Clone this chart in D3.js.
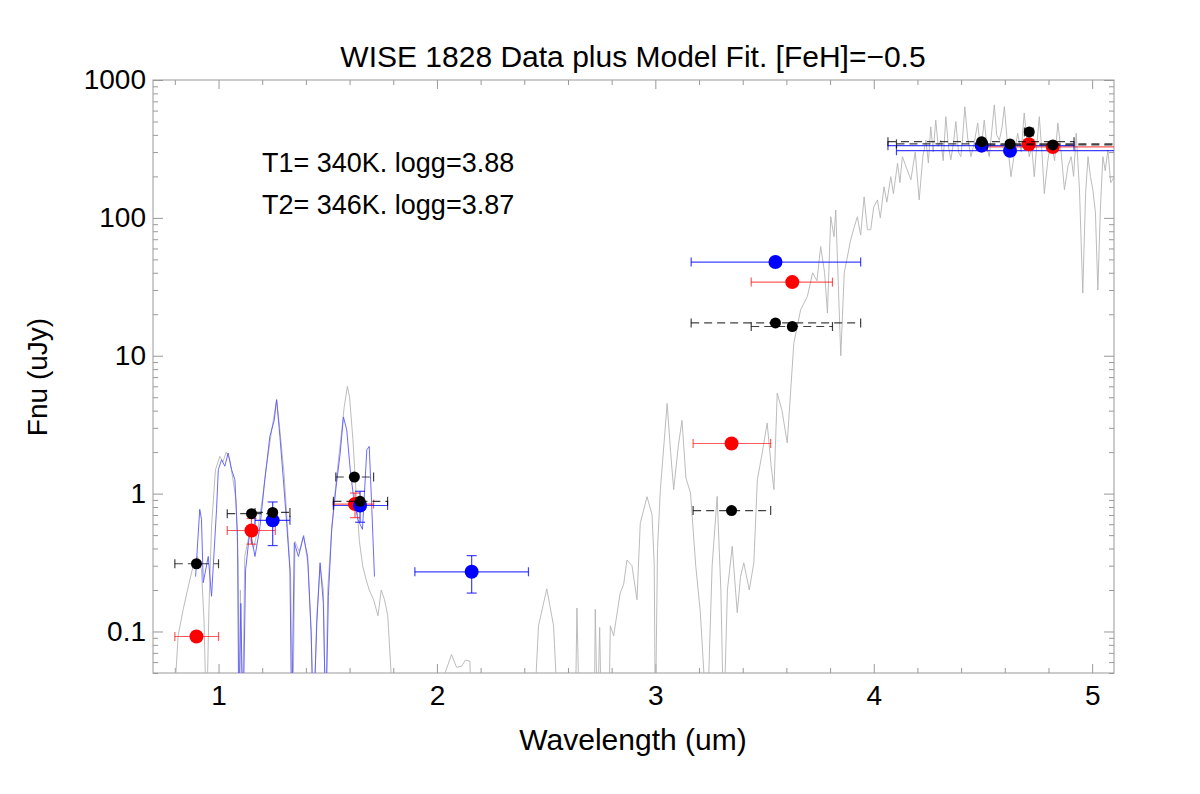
<!DOCTYPE html>
<html>
<head>
<meta charset="utf-8">
<style>
  body { margin: 0; background: #fff; }
  svg { display: block; }
  text { font-family: "Liberation Sans", Arial, sans-serif; fill: #000; }
</style>
</head>
<body>
<svg width="1200" height="794"></svg>

<script src="https://d3js.org/d3.v7.min.js"></script>
<script>
	// tick values
	const xTicks = [1, 2, 3, 4, 5]
	const yTicks = [0.1, 1, 10, 100, 1000]

	// observed photometry: [wave, flux, waveLo, waveHi, fluxLo, fluxHi]
	const redPts = [
		[0.899, 0.092, 0.80, 1.00, null, null],
		[1.151, 0.54, 1.04, 1.26, 0.43, 0.66],
		[1.625, 0.84, 1.526, 1.71, 0.67, 1.01],
		[3.349, 2.31, 3.173, 3.528, null, null],
		[3.627, 34.2, 3.439, 3.811, null, null],
		[4.71, 342, 4.69, 4.73, null, null],
		[4.82, 327, 4.52, 5.12, null, null]
	]
	const bluePts = [
		[1.248, 0.64, 1.167, 1.327, 0.42, 0.87],
		[1.648, 0.82, 1.526, 1.774, 0.62, 1.04],
		[2.159, 0.271, 1.899, 2.419, 0.19, 0.355],
		[3.55, 47.8, 3.164, 3.94, null, null],
		[4.494, 334, 4.065, 4.917, null, null],
		[4.624, 307, 4.104, 5.14, null, null]
	]
	// model photometry (black): [wave, flux, waveLo, waveHi]
	const modelPts = [
		[0.899, 0.31, 0.80, 1.00],
		[1.151, 0.716, 1.04, 1.26],
		[1.248, 0.73, 1.167, 1.327],
		[1.622, 1.32, 1.537, 1.71],
		[1.648, 0.88, 1.526, 1.774],
		[3.349, 0.753, 3.173, 3.528],
		[3.55, 17.3, 3.164, 3.94],
		[3.627, 16.3, 3.439, 3.811],
		[4.494, 357, 4.065, 4.917],
		[4.624, 344, 4.104, 5.14],
		[4.712, 420, 4.69, 4.73],
		[4.82, 338, 4.52, 5.12]
	]

	// model spectrum, grey: [wave, flux]
	const specGrey = [
		[0.79,0.02],[0.815,0.093],[0.838,0.144],[0.861,0.21],[0.884,0.30],[0.904,0.35],[0.922,0.28],
		[0.934,0.116],[0.945,0.02],[0.956,0.144],[0.968,0.58],[0.986,1.49],[1.006,1.86],[1.02,1.7],
		[1.035,2.0],[1.05,1.8],[1.065,1.3],[1.08,0.9],[1.09,0.3],[1.095,0.02],[1.10,0.2],[1.11,0.02],
		[1.12,0.35],[1.14,0.5],[1.16,0.4],[1.18,0.55],[1.20,0.9],[1.22,1.6],[1.245,3.0],[1.266,4.8],
		[1.28,3.0],[1.30,1.4],[1.315,0.6],[1.33,0.25],[1.34,0.02],[1.35,0.45],[1.37,0.38],[1.39,0.5],
		[1.41,0.3],[1.425,0.09],[1.435,0.02],[1.45,0.13],[1.465,0.3],[1.48,0.2],[1.49,0.02],[1.50,0.2],
		[1.52,0.6],[1.54,1.3],[1.56,2.5],[1.575,4.2],[1.59,6.0],[1.60,5.0],[1.615,2.5],[1.63,1.0],
		[1.645,0.45],[1.66,0.3],[1.675,0.24],[1.69,0.2],[1.71,0.17],[1.73,0.13],[1.745,0.2],[1.76,0.17],
		[1.775,0.13],[1.79,0.05],[1.80,0.02],
		[2.03,0.02],[2.037,0.05],[2.067,0.068],[2.09,0.055],[2.113,0.056],[2.13,0.062],[2.151,0.061],[2.159,0.02],
		[2.442,0.02],[2.465,0.11],[2.503,0.204],[2.534,0.11],[2.557,0.02],[2.633,0.02],[2.641,0.148],
		[2.653,0.02],[2.72,0.02],[2.725,0.145],[2.735,0.02],[2.745,0.107],[2.754,0.02],[2.786,0.02],
		[2.794,0.11],[2.809,0.093],[2.839,0.19],[2.855,0.22],[2.87,0.33],[2.893,0.30],[2.916,0.17],
		[2.931,0.61],[2.962,0.95],[2.985,0.7],[2.995,0.3],[3.0,0.02],[3.01,0.4],[3.023,1.07],[3.054,4.5],
		[3.07,2.0],[3.084,1.07],[3.105,2.2],[3.122,3.4],[3.14,1.3],[3.161,1.01],[3.185,0.3],[3.206,0.137],
		[3.237,0.02],[3.26,0.3],[3.283,0.955],[3.3,0.2],[3.313,0.02],[3.33,0.2],[3.352,0.415],[3.375,0.137],
		[3.39,0.25],[3.405,0.315],[3.43,0.2],[3.451,0.315],[3.467,1.26],[3.49,2.0],[3.512,3.25],[3.53,1.6],
		[3.543,1.07],[3.558,5.36],[3.58,4.0],[3.604,2.33],[3.634,12.3],[3.665,21.5],[3.696,26.9],[3.72,40],
		[3.74,35],[3.757,62],[3.775,40],[3.788,20.4],[3.803,102],[3.818,73],[3.826,114],[3.849,10],
		[3.865,40],[3.879,52],[3.894,69],[3.91,85],[3.925,102],[3.94,75],[3.956,142],[3.971,82],[3.986,82],
		[4.0,120],[4.017,135],[4.03,100],[4.047,168],[4.06,130],[4.078,199],[4.09,150],[4.109,249],
		[4.12,180],[4.131,278],[4.15,230],[4.17,189],[4.19,300],[4.208,135],[4.225,280],[4.239,366],
		[4.25,250],[4.261,458],[4.272,300],[4.284,513],[4.295,330],[4.307,366],[4.318,260],[4.33,542],
		[4.342,330],[4.353,264],[4.365,350],[4.376,500],[4.388,300],[4.399,278],[4.408,400],[4.417,640],
		[4.43,380],[4.445,278],[4.46,350],[4.476,488],[4.49,300],[4.506,513],[4.518,330],[4.529,278],
		[4.54,420],[4.552,660],[4.563,400],[4.575,366],[4.587,450],[4.598,640],[4.61,380],[4.628,199],
		[4.645,300],[4.659,411],[4.675,300],[4.689,577],[4.7,380],[4.712,278],[4.723,330],[4.735,199],
		[4.746,330],[4.758,542],[4.77,300],[4.781,150],[4.797,260],[4.812,366],[4.828,260],[4.843,488],
		[4.858,300],[4.873,160],[4.89,240],[4.904,278],[4.915,200],[4.927,411],[4.942,160],[4.957,28.5],
		[4.97,150],[4.981,278],[4.992,200],[5.003,160],[5.015,110],[5.026,30],[5.038,120],[5.049,278],
		[5.06,220],[5.072,311],[5.085,180],[5.102,199]
	]
	// model spectrum, blue (near-IR only)
	const specBlue = [
		[0.895,0.25],[0.914,0.77],[0.922,0.65],[0.93,0.226],[0.953,0.35],[0.968,0.18],[0.991,0.77],
		[0.999,1.49],[1.014,1.76],[1.029,1.58],[1.044,1.97],[1.06,1.49],[1.075,1.26],[1.087,0.49],
		[1.093,0.02],[1.102,0.16],[1.112,0.02],[1.124,0.28],[1.144,0.55],[1.167,0.35],[1.19,0.58],
		[1.212,1.26],[1.235,2.6],[1.255,3.4],[1.266,4.8],[1.281,2.6],[1.297,1.26],[1.312,0.61],
		[1.327,0.28],[1.335,0.02],[1.347,0.44],[1.366,0.35],[1.389,0.49],[1.408,0.35],[1.424,0.10],
		[1.434,0.02],[1.45,0.115],[1.465,0.315],[1.48,0.16],[1.491,0.02],[1.503,0.18],[1.518,0.55],
		[1.537,1.07],[1.557,1.97],[1.572,3.6],[1.587,2.9],[1.603,1.49],[1.618,0.95],[1.638,0.65],
		[1.659,0.55],[1.679,2.08],[1.69,2.2],[1.702,0.77],[1.714,0.25]
	]

	const labels = ["T1= 340K. logg=3.88", "T2= 346K. logg=3.87"]

	const mLeft = 153, mRight = 1114, mTop = 80, mBottom = 673
	const frameColor = "#999"

	const x = d3.scaleLinear().domain([0.7, 5.1]).range([mLeft, mRight])
	const y = d3.scaleLog().domain([0.05, 1000]).range([mBottom, mTop])

	const svg = d3.select("svg")

	svg.append("clipPath").attr("id", "plot")
		.append("rect")
		.attr("x", mLeft).attr("y", mTop)
		.attr("width", mRight - mLeft).attr("height", mBottom - mTop)

	// minor tick values
	const xMinor = d3.range(8, 51, 2).map(d => d / 10).filter(d => !xTicks.includes(d))
	const yMinor = []
	for (let e = -2; e <= 2; e++) {
		for (let k = 2; k <= 9; k++) {
			const v = k * Math.pow(10, e)
			if (v >= 0.05 && v <= 1000) yMinor.push(+v.toPrecision(3))
		}
	}

	function styleAxis(g) {
		g.select(".domain").remove()
		g.selectAll(".tick line").attr("stroke", frameColor)
	}

	// axes: ticks point inward on all four sides
	svg.append("g").attr("transform", `translate(0,${mBottom})`)
		.call(d3.axisBottom(x).tickValues(xMinor).tickSize(-5).tickFormat(""))
		.call(styleAxis)
	svg.append("g").attr("transform", `translate(0,${mBottom})`)
		.call(d3.axisBottom(x).tickValues(xTicks).tickSize(-9).tickPadding(12).tickFormat(d3.format("d")))
		.call(styleAxis)
		.selectAll("text").attr("font-size", 28).attr("font-family", null)
	svg.append("g").attr("transform", `translate(0,${mTop})`)
		.call(d3.axisTop(x).tickValues(xMinor).tickSize(-5).tickFormat(""))
		.call(styleAxis)
	svg.append("g").attr("transform", `translate(0,${mTop})`)
		.call(d3.axisTop(x).tickValues(xTicks).tickSize(-9).tickFormat(""))
		.call(styleAxis)

	svg.append("g").attr("transform", `translate(${mLeft},0)`)
		.call(d3.axisLeft(y).tickValues(yMinor).tickSize(-5).tickFormat(""))
		.call(styleAxis)
	svg.append("g").attr("transform", `translate(${mLeft},0)`)
		.call(d3.axisLeft(y).tickValues(yTicks).tickSize(-10).tickPadding(7).tickFormat(d => d < 1 ? "0.1" : d3.format("d")(d)))
		.call(styleAxis)
		.selectAll("text").attr("font-size", 28).attr("font-family", null)
	svg.append("g").attr("transform", `translate(${mRight},0)`)
		.call(d3.axisRight(y).tickValues(yMinor).tickSize(-5).tickFormat(""))
		.call(styleAxis)
	svg.append("g").attr("transform", `translate(${mRight},0)`)
		.call(d3.axisRight(y).tickValues(yTicks).tickSize(-10).tickFormat(""))
		.call(styleAxis)

	svg.append("rect")
		.attr("x", mLeft).attr("y", mTop)
		.attr("width", mRight - mLeft).attr("height", mBottom - mTop)
		.attr("fill", "none").attr("stroke", frameColor)

	const plot = svg.append("g").attr("clip-path", "url(#plot)")

	const line = d3.line().x(d => x(d[0])).y(d => y(d[1]))

	plot.append("path").datum(specGrey)
		.attr("d", line)
		.attr("fill", "none").attr("stroke", "#b4b4b4").attr("stroke-width", 0.9)
	plot.append("path").datum(specBlue)
		.attr("d", line)
		.attr("fill", "none").attr("stroke", "#5a5aff").attr("stroke-width", 0.9)

	function errorBars(data, color, dash, opacity) {
		const g = plot.append("g")
			.attr("stroke", color).attr("stroke-width", 1.2).attr("stroke-opacity", opacity)
		data.forEach(d => {
			const cy = y(d[1])
			g.append("line")
				.attr("x1", x(d[2])).attr("x2", x(d[3]))
				.attr("y1", cy).attr("y2", cy)
				.attr("stroke-dasharray", dash)
			;[d[2], d[3]].forEach(w => {
				g.append("line")
					.attr("x1", x(w)).attr("x2", x(w))
					.attr("y1", cy - 4.5).attr("y2", cy + 4.5)
			})
			if (d[4] != null) {
				const cx = x(d[0])
				g.append("line")
					.attr("x1", cx).attr("x2", cx)
					.attr("y1", y(d[4])).attr("y2", y(d[5]))
				;[d[4], d[5]].forEach(f => {
					g.append("line")
						.attr("x1", cx - 5).attr("x2", cx + 5)
						.attr("y1", y(f)).attr("y2", y(f))
				})
			}
		})
	}

	function dots(data, color, r) {
		plot.append("g").selectAll("circle")
			.data(data)
			.join("circle")
			.attr("cx", d => x(d[0]))
			.attr("cy", d => y(d[1]))
			.attr("r", r)
			.attr("fill", color)
	}

	errorBars(redPts, "#ff0000", null, 0.65)
	errorBars(bluePts, "#0000ff", null, 0.75)
	dots(redPts, "#ff0000", 7)
	dots(bluePts, "#0000ff", 7)
	errorBars(modelPts, "#000", "8,5", 0.75)
	dots(modelPts, "#000", 5.5)

	// title and labels
	svg.append("text")
		.attr("x", 633).attr("y", 67)
		.attr("text-anchor", "middle").attr("font-size", 30)
		.text("WISE 1828 Data plus Model Fit. [FeH]=\u22120.5")

	svg.append("text")
		.attr("x", 633).attr("y", 750)
		.attr("text-anchor", "middle").attr("font-size", 30)
		.text("Wavelength (um)")

	svg.append("text")
		.attr("transform", "translate(47,377) rotate(-90)")
		.attr("text-anchor", "middle").attr("font-size", 28)
		.text("Fnu (uJy)")

	svg.append("g").selectAll("text")
		.data(labels)
		.join("text")
		.attr("x", 262)
		.attr("y", (d, i) => 172 + i * 42)
		.attr("font-size", 27)
		.text(d => d)
</script>
</body>
</html>
